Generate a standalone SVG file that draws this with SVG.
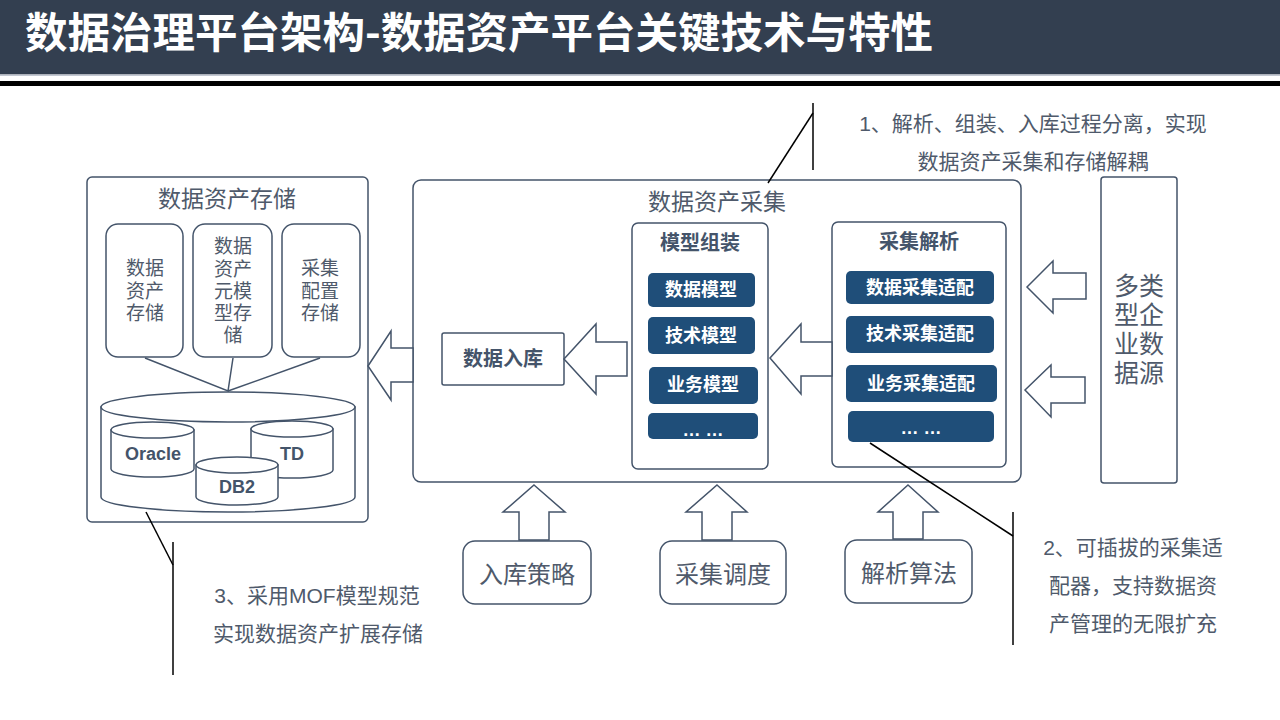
<svg xmlns="http://www.w3.org/2000/svg" width="1280" height="720" viewBox="0 0 1280 720">
<style>
.box{fill:#fff;stroke:#44546a;stroke-width:1.5}
.arr{fill:#fff;stroke:#44546a;stroke-width:1.5;stroke-linejoin:miter}
.blue{fill:#1f4e79;stroke:none}
.t{font-family:"Liberation Sans","Noto Sans CJK SC",sans-serif;fill:#4f5a6b;text-anchor:middle;dominant-baseline:central}
.b{font-family:"Liberation Sans","Noto Sans CJK SC",sans-serif;font-weight:bold;fill:#44546a;text-anchor:middle;dominant-baseline:central}
.w{font-family:"Liberation Sans","Noto Sans CJK SC",sans-serif;font-weight:bold;fill:#fff;text-anchor:middle;dominant-baseline:central;font-size:18px}
.note{font-family:"Liberation Sans","Noto Sans CJK SC",sans-serif;fill:#4f5a6b;text-anchor:middle;dominant-baseline:central;font-size:21px}
.ln{stroke:#44546a;stroke-width:1.5;fill:none}
.al{stroke:#000;stroke-width:1.5;fill:none}
</style>
<rect x="0" y="0" width="1280" height="720" fill="#fff"/>
<g id="header">
<rect x="0" y="0" width="1280" height="74.5" fill="#333f50"/>
<rect x="0" y="74.5" width="1280" height="1.5" fill="#c3c8d2"/>
<rect x="0" y="81" width="1280" height="5" fill="#000"/>
<text x="25" y="48" font-family="'Noto Sans CJK SC',sans-serif" font-weight="bold" font-size="42" fill="#fff" textLength="908" lengthAdjust="spacingAndGlyphs">数据治理平台架构-数据资产平台关键技术与特性</text>
</g>
<g id="storage">
<rect class="box" x="87" y="177" width="281" height="345" rx="5"/>
<text class="t" x="227" y="199" font-size="23">数据资产存储</text>
</g>
<g id="store-asset">
<rect class="box" x="106" y="224" width="77" height="133" rx="12"/>
<text class="t" x="145" y="268" font-size="19">数据</text>
<text class="t" x="145" y="291" font-size="19">资产</text>
<text class="t" x="145" y="313" font-size="19">存储</text>
</g>
<g id="store-meta">
<rect class="box" x="193" y="224" width="79" height="133" rx="12"/>
<text class="t" x="233" y="246" font-size="19">数据</text>
<text class="t" x="233" y="269" font-size="19">资产</text>
<text class="t" x="233" y="291" font-size="19">元模</text>
<text class="t" x="233" y="313" font-size="19">型存</text>
<text class="t" x="233" y="335" font-size="19">储</text>
</g>
<g id="store-config">
<rect class="box" x="282" y="224" width="78" height="133" rx="12"/>
<text class="t" x="320" y="268" font-size="19">采集</text>
<text class="t" x="320" y="291" font-size="19">配置</text>
<text class="t" x="320" y="313" font-size="19">存储</text>
</g>
<g id="db-cylinder">
<path class="box" d="M101,407 L101,497 A127,15 0 0 0 355,497 L355,407 Z"/>
<ellipse class="box" cx="228" cy="407" rx="127" ry="15"/>
</g>
<g id="oracle">
<path class="box" d="M111,430 L111,469 A41.5,8 0 0 0 194,469 L194,430 Z"/>
<ellipse class="box" cx="152.5" cy="430" rx="41.5" ry="8"/>
<text class="b" x="153" y="454" font-size="18">Oracle</text>
</g>
<g id="td">
<path class="box" d="M251,429 L251,470 A41,8 0 0 0 333,470 L333,429 Z"/>
<ellipse class="box" cx="292" cy="429" rx="41" ry="8"/>
<text class="b" x="292" y="454" font-size="18">TD</text>
</g>
<g id="db2">
<path class="box" d="M196,465 L196,497 A41,8 0 0 0 278,497 L278,465 Z"/>
<ellipse class="box" cx="237" cy="465" rx="41" ry="8"/>
<text class="b" x="237" y="487" font-size="18">DB2</text>
</g>
<g id="collect">
<rect class="box" x="413" y="180" width="608" height="302" rx="8"/>
<text class="t" x="717" y="202" font-size="23">数据资产采集</text>
</g>
<g id="ingest">
<rect class="box" x="442" y="333" width="122" height="52" rx="2"/>
<text class="b" x="503" y="359" font-size="20">数据入库</text>
</g>
<g id="model-assembly">
<rect class="box" x="632" y="223" width="136" height="246" rx="6"/>
<text class="b" x="700" y="243" font-size="20">模型组装</text>
<rect class="blue" x="648" y="273" width="107" height="34" rx="5"/>
<text class="w" x="701" y="290">数据模型</text>
<rect class="blue" x="648" y="317" width="107" height="37" rx="5"/>
<text class="w" x="701" y="336">技术模型</text>
<rect class="blue" x="649" y="367" width="109" height="37" rx="5"/>
<text class="w" x="703" y="385">业务模型</text>
<rect class="blue" x="648" y="413" width="110" height="26" rx="5"/>
<text class="w" x="703" y="430" font-size="15">… …</text>
</g>
<g id="collect-parse">
<rect class="box" x="832" y="222" width="174" height="245" rx="6"/>
<text class="b" x="919" y="242" font-size="20">采集解析</text>
<rect class="blue" x="846" y="271" width="148" height="33" rx="5"/>
<text class="w" x="920" y="288">数据采集适配</text>
<rect class="blue" x="846" y="316" width="148" height="37" rx="5"/>
<text class="w" x="920" y="334">技术采集适配</text>
<rect class="blue" x="846" y="365" width="151" height="37" rx="5"/>
<text class="w" x="921" y="384">业务采集适配</text>
<rect class="blue" x="848" y="411" width="146" height="31" rx="5"/>
<text class="w" x="921" y="428" font-size="15">… …</text>
</g>
<g id="sources">
<rect class="box" x="1101" y="177" width="76" height="306" rx="3"/>
<text class="t" x="1139" y="286" font-size="25">多类</text>
<text class="t" x="1139" y="315" font-size="25">型企</text>
<text class="t" x="1139" y="344" font-size="25">业数</text>
<text class="t" x="1139" y="373" font-size="25">据源</text>
</g>
<g id="strategy">
<rect class="box" x="463" y="541" width="128" height="63" rx="12"/>
<text class="t" x="527" y="574" font-size="24">入库策略</text>
</g>
<g id="schedule">
<rect class="box" x="660" y="541" width="126" height="63" rx="12"/>
<text class="t" x="723" y="574" font-size="24">采集调度</text>
</g>
<g id="algorithm">
<rect class="box" x="845" y="540" width="127" height="63" rx="12"/>
<text class="t" x="909" y="573" font-size="24">解析算法</text>
</g>
<g id="connectors">
<polyline class="ln" points="145,358 228,391 233,358"/>
<line class="ln" x1="228" y1="391" x2="320" y2="358"/>
<polygon class="arr" points="368,366 391,331 391,348 413,348 413,382 391,382 391,400"/>
<polygon class="arr" points="564,359 596,324 596,342 627,342 627,376 596,376 596,394"/>
<polygon class="arr" points="770,358 801,324 801,342 832,342 832,376 801,376 801,394"/>
<polygon class="arr" points="1027,287 1053,261 1053,273 1086,273 1086,299 1053,299 1053,313"/>
<polygon class="arr" points="1025,390 1051,365 1051,377 1085,377 1085,403 1051,403 1051,417"/>
<polygon class="arr" points="534,485 565,512 549,512 549,540 519,540 519,512 503,512"/>
<polygon class="arr" points="717,485 747,512 732,512 732,540 702,540 702,512 686,512"/>
<polygon class="arr" points="908,485 938,512 923,512 923,539 893,539 893,512 878,512"/>
</g>
<g id="note1">
<line class="al" x1="813" y1="103" x2="813" y2="170"/>
<line class="al" x1="768" y1="183" x2="813" y2="113"/>
<text class="note" x="1033" y="123">1、解析、组装、入库过程分离，实现</text>
<text class="note" x="1033" y="161">数据资产采集和存储解耦</text>
</g>
<g id="note2">
<line class="al" x1="1013" y1="512" x2="1013" y2="645"/>
<line class="al" x1="870" y1="443" x2="1013" y2="536"/>
<text class="note" x="1133" y="547">2、可插拔的采集适</text>
<text class="note" x="1133" y="585">配器，支持数据资</text>
<text class="note" x="1133" y="623">产管理的无限扩充</text>
</g>
<g id="note3">
<line class="al" x1="173" y1="542" x2="173" y2="675"/>
<line class="al" x1="146" y1="512" x2="173" y2="565"/>
<text class="note" x="317" y="595">3、采用MOF模型规范</text>
<text class="note" x="318" y="633">实现数据资产扩展存储</text>
</g>
</svg>
